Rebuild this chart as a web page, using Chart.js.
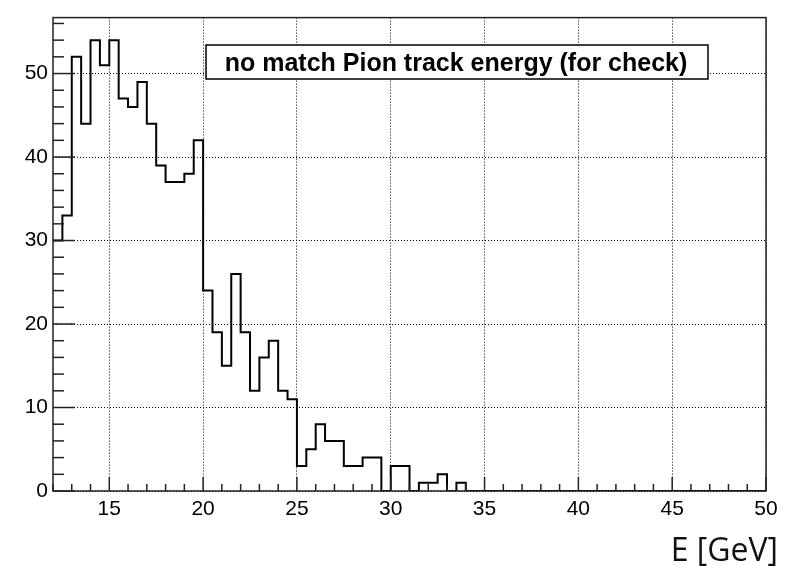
<!DOCTYPE html>
<html><head><meta charset="utf-8">
<script src="https://cdn.jsdelivr.net/npm/chart.js@4"></script>
<style>html,body{margin:0;padding:0;background:#fff;overflow:hidden}</style>
</head><body>
<canvas id="c" width="790" height="566"></canvas>
<script>
const histTitle = "no match Pion track energy (for check)";
const xAxisTitle = "E [GeV]";
const binLow = 12;
const binWidth = 0.5;
const counts = [
  30, 33, 52, 44, 54, 51, 54, 47, 46, 49, 44, 39, 37, 37, 38, 42,
  24, 19, 15, 26, 19, 12, 16, 18, 12, 11,
  3, 5, 8, 6, 6, 3, 3, 4, 4, 0,
  3, 3, 0, 1, 1, 2, 0, 1,
  0, 0, 0, 0, 0, 0, 0, 0, 0, 0, 0, 0, 0, 0, 0, 0,
  0, 0, 0, 0, 0, 0, 0, 0, 0, 0, 0, 0, 0, 0, 0, 0
];
const xTicks = [15, 20, 25, 30, 35, 40, 45, 50];
const yTicks = [0, 10, 20, 30, 40, 50];
const xRange = [12, 50];
const yRange = [0, 56.7];

const points = counts.map((c, i) => ({ x: binLow + binWidth * i, y: c }));
points.push({ x: binLow + binWidth * counts.length, y: counts[counts.length - 1] });

const rootDecor = {
  id: 'rootDecor',
  afterDatasetsDraw(chart) {
    const { ctx, chartArea: a, scales: { x, y } } = chart;
    ctx.save();
    ctx.strokeStyle = '#222';
    ctx.lineWidth = 1.5;
    for (let v = Math.ceil(xRange[0]); v <= xRange[1]; v++) {
      const px = x.getPixelForValue(v);
      const len = v % 5 === 0 ? 14 : 7;
      ctx.beginPath(); ctx.moveTo(px, a.bottom); ctx.lineTo(px, a.bottom - len); ctx.stroke();
    }
    for (let v = yRange[0]; v <= yRange[1]; v += 2) {
      const py = y.getPixelForValue(v);
      const len = v % 10 === 0 ? 22 : 11;
      ctx.beginPath(); ctx.moveTo(a.left, py); ctx.lineTo(a.left + len, py); ctx.stroke();
    }
    ctx.strokeRect(a.left, a.top, a.right - a.left, a.bottom - a.top);
    ctx.restore();
  },
  afterDraw(chart) {
    const { ctx } = chart;
    ctx.save();
    // title box
    ctx.fillStyle = '#fff';
    ctx.fillRect(206, 45, 502, 34);
    ctx.strokeStyle = '#000';
    ctx.lineWidth = 1.5;
    ctx.strokeRect(206, 45, 502, 34);
    ctx.fillStyle = '#000';
    ctx.font = 'bold 25px "Liberation Sans", Arial, sans-serif';
    ctx.textAlign = 'center';
    ctx.textBaseline = 'alphabetic';
    ctx.fillText(histTitle, 456, 70.5);
    // x axis title
    ctx.font = '32px "Open Sans", sans-serif';
    ctx.textAlign = 'right';
    ctx.fillStyle = '#111';
    ctx.fillText(xAxisTitle, 778, 560.5);
    ctx.restore();
  }
};

new Chart(document.getElementById('c'), {
  type: 'line',
  data: {
    datasets: [{
      data: points,
      stepped: 'before',
      borderColor: '#000',
      borderWidth: 2,
      pointRadius: 0,
      fill: false
    }]
  },
  options: {
    responsive: false,
    animation: false,
    devicePixelRatio: 1,
    layout: { padding: { top: 9, right: 24, left: 0, bottom: 0 } },
    plugins: { legend: { display: false }, tooltip: { enabled: false }, title: { display: false } },
    scales: {
      x: {
        type: 'linear', min: xRange[0], max: xRange[1],
        afterBuildTicks: s => { s.ticks = xTicks.map(v => ({ value: v })); },
        afterFit: s => { s.height = 75; },
        grid: { color: '#000', lineWidth: 1, drawTicks: false },
        border: { display: false, dash: [1, 2] },
        ticks: { padding: 6, color: '#000', font: { family: '"Liberation Sans", Arial, sans-serif', size: 21 }, maxRotation: 0, autoSkip: false }
      },
      y: {
        type: 'linear', min: yRange[0], max: yRange[1],
        afterBuildTicks: s => { s.ticks = yTicks.map(v => ({ value: v })); },
        afterFit: s => { s.width = 53; },
        grid: { color: '#000', lineWidth: 1, drawTicks: false },
        border: { display: false, dash: [1, 2] },
        ticks: { padding: 5, color: '#000', font: { family: '"Liberation Sans", Arial, sans-serif', size: 21 } }
      }
    }
  },
  plugins: [rootDecor]
});
</script>
</body></html>
